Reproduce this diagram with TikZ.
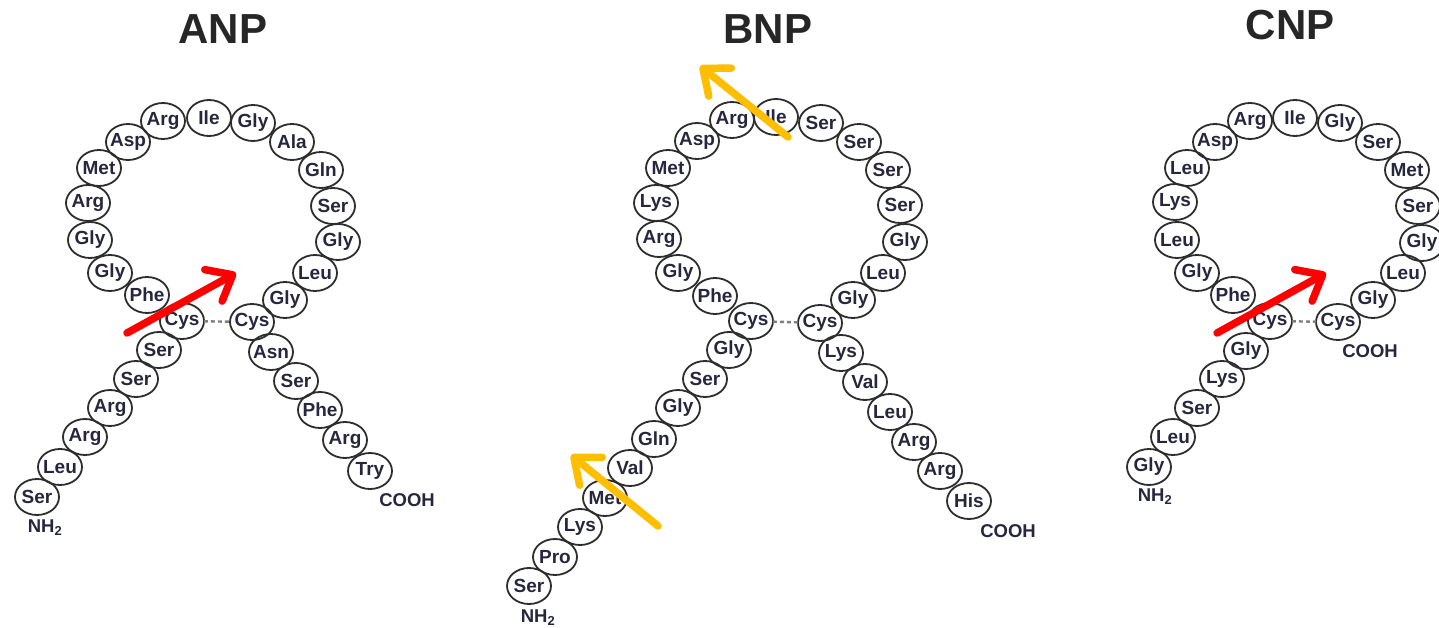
\documentclass[tikz,border=0pt]{standalone}
\usepackage{fontspec}
\setmainfont{Liberation Sans}
\usetikzlibrary{shapes.geometric,arrows.meta}
\definecolor{ink}{RGB}{38,38,62}
\definecolor{rim}{RGB}{45,45,45}
\definecolor{arrowred}{RGB}{255,0,0}
\definecolor{arrowgold}{RGB}{255,190,0}
\newcommand{\resname}[1]{\makebox[0pt]{#1}}
\begin{document}
\begin{tikzpicture}[x=1pt,y=-1pt,
  residue/.style={ellipse, draw=rim, line width=1.8pt, minimum width=44pt,
    minimum height=36pt, inner sep=0pt, text=ink,
    font=\bfseries\fontsize{19}{19}\selectfont},
  terminus/.style={inner sep=0pt, text=ink, font=\bfseries\fontsize{18.5}{19}\selectfont},
  peptide/.style={inner sep=0pt, text=black!85, font=\bfseries\fontsize{42}{44}\selectfont},
  ssbond/.style={draw=gray, line width=2.4pt, dash pattern=on 4pt off 3pt, shorten <=-1pt, shorten >=-1pt},
  pointer/.style={line width=7.5pt, line cap=round,
    -{Straight Barb[length=22pt,width=36pt,round]}},
]
\useasboundingbox (0,0) rectangle (1439,628);

% ---------- ANP ----------
\node[peptide] (tA) at (223,29) {ANP};
\foreach \n/\x/\y/\t in {
  aCysL/182/321/Cys, aPhe/147/295/Phe, aGlyA/110/273/Gly, aGlyB/90/240/Gly,
  aArgA/88/203/Arg, aMet/99/168/Met, aAsp/128/142/Asp, aArgB/163/121/Arg,
  aIle/209/118/Ile, aGlyC/253/123/Gly, aAla/292/142/Ala, aGln/321/170/Gln,
  aSerA/333/206/Ser, aGlyD/338/242/Gly, aLeuA/315/273/Leu, aGlyE/285/300/Gly,
  aCysR/252/322/Cys,
  aSerB/159/350/Ser, aSerC/136/379/Ser, aArgC/110/408/Arg, aArgD/85/437/Arg,
  aLeuB/60/467/Leu, aSerD/37/497/Ser,
  aAsn/271/352/Asn, aSerE/296/381/Ser, aPheB/320/410/Phe, aArgE/345/440/Arg,
  aTry/370/471/Try}
  \node[residue] (\n) at (\x,\y) {\resname{\t}};
\node[terminus] (aN) at (45,528) {NH\textsubscript{2}};
\node[terminus] (aC) at (407,500) {COOH};
\draw[ssbond] (aCysL) -- (aCysR);

% ---------- BNP ----------
\node[peptide] (tB) at (768,29) {BNP};
\foreach \n/\x/\y/\t in {
  bCysL/751/321/Cys, bPhe/715/296/Phe, bGlyA/678/273/Gly, bArgA/659/239/Arg,
  bLysA/656/203/Lys, bMetA/668/168/Met, bAsp/697/141/Asp, bArgB/732/120/Arg,
  bIle/776/117/Ile, bSerA/821/123/Ser, bSerB/859/142/Ser, bSerC/888/170/Ser,
  bSerD/900/205/Ser, bGlyB/905/242/Gly, bLeuA/883/273/Leu, bGlyC/853/300/Gly,
  bCysR/820/323/Cys,
  bGlyD/729/350/Gly, bSerE/705/379/Ser, bGlyE/678/408/Gly, bGln/654/439/Gln,
  bValA/630/468/Val, bMetB/605/498/Met, bLysB/580/527/Lys, bPro/555/557/Pro,
  bSerF/529/586/Ser,
  bLysC/841/353/Lys, bValB/865/382/Val, bLeuB/890/412/Leu, bArgC/914/442/Arg,
  bArgD/940/471/Arg, bHis/969/501/His}
  \node[residue] (\n) at (\x,\y) {\resname{\t}};
\node[terminus] (bN) at (538,618) {NH\textsubscript{2}};
\node[terminus] (bC) at (1008,531) {COOH};
\draw[ssbond] (bCysL) -- (bCysR);

% ---------- CNP ----------
\node[peptide] (tC) at (1290,25) {CNP};
\foreach \n/\x/\y/\t in {
  cCysL/1270/321/Cys, cPhe/1233/295/Phe, cGlyA/1197/273/Gly, cLeuA/1177/240/Leu,
  cLysA/1175/202/Lys, cLeuB/1187/168/Leu, cAsp/1215/142/Asp, cArg/1250/121/Arg,
  cIle/1295/118/Ile, cGlyB/1340/123/Gly, cSerA/1378/142/Ser, cMet/1407/170/Met,
  cSerB/1418/206/Ser, cGlyC/1422/243/Gly, cLeuC/1403/273/Leu, cGlyD/1373/300/Gly,
  cCysR/1338/322/Cys,
  cGlyE/1246/351/Gly, cLysB/1222/379/Lys, cSerC/1197/408/Ser, cLeuD/1173/437/Leu,
  cGlyF/1149/467/Gly}
  \node[residue] (\n) at (\x,\y) {\resname{\t}};
\node[terminus] (cN) at (1155,497) {NH\textsubscript{2}};
\node[terminus] (cC) at (1370,351) {COOH};
\draw[ssbond] (cCysL) -- (cCysR);

% ---------- highlight arrows ----------
\coordinate (raS) at (127,333);
\coordinate (raE) at (236,273);
\draw[pointer, arrowred] (raS) -- (raE);
\coordinate (rcS) at (1217,333);
\coordinate (rcE) at (1326,273);
\draw[pointer, arrowred] (rcS) -- (rcE);
\coordinate (gtS) at (788,137);
\coordinate (gtE) at (700,66);
\draw[pointer, arrowgold] (gtS) -- (gtE);
\coordinate (gbS) at (658,526);
\coordinate (gbE) at (571,455);
\draw[pointer, arrowgold] (gbS) -- (gbE);
\end{tikzpicture}
\end{document}
